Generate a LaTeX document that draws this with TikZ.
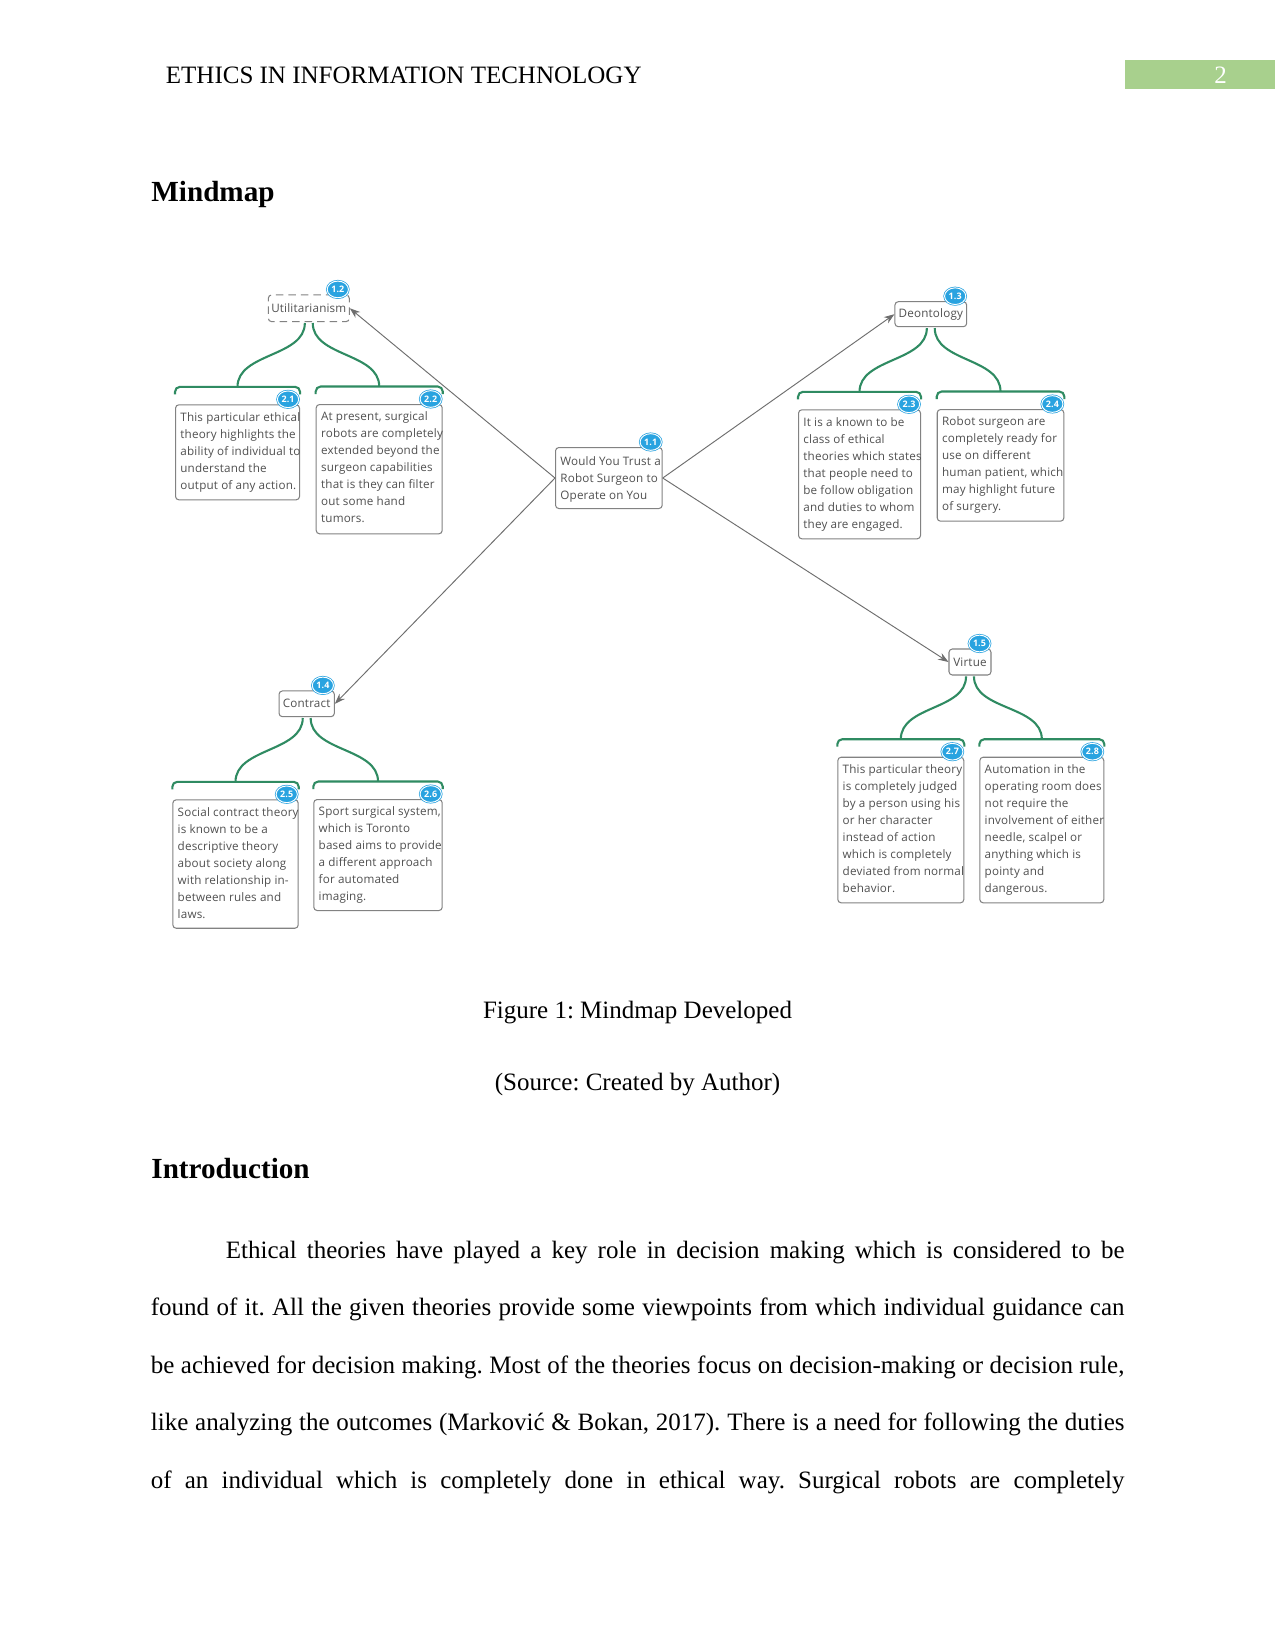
\documentclass[tikz,border=0pt]{standalone}
\usepackage{fontspec}
\setmainfont{Liberation Serif}
\newfontfamily\mmfont[LetterSpace=1.5]{Open Sans}
\usetikzlibrary{shapes.geometric,arrows.meta}
\definecolor{mmgreen}{RGB}{47,139,98}
\definecolor{badgec}{RGB}{41,163,224}
\definecolor{boxc}{RGB}{130,130,130}
\definecolor{mmtextc}{RGB}{80,80,80}
\definecolor{linkc}{RGB}{110,110,110}
\definecolor{headgreen}{RGB}{168,208,141}
\frenchspacing
\tikzset{
  mmtext/.style={font=\mmfont\fontsize{5.6bp}{8.16bp}\selectfont, text=mmtextc},
  leafbox/.style={draw=boxc, line width=0.5bp, rounded corners=1.6bp, fill=white, inner sep=0pt, anchor=north west},
  topbox/.style={draw=boxc, line width=0.5bp, rounded corners=1.6bp, fill=white, inner sep=0pt, mmtext},
  leaftext/.style={mmtext, align=left, inner sep=0pt, anchor=north west},
  badge/.style={ellipse, fill=badgec, draw=badgec, double=white, double distance=0.45bp, line width=0.35bp,
    minimum width=10.2bp, minimum height=8bp, inner sep=0pt, text=white,
    font=\mmfont\bfseries\fontsize{4.3bp}{5bp}\selectfont},
  branch/.style={draw=mmgreen, line width=1bp},
  link/.style={draw=linkc, line width=0.45bp, -{Stealth[length=5bp,width=3.6bp]}},
  bodytext/.style={inner sep=0pt, anchor=base west, font=\fontsize{12bp}{14bp}\selectfont},
}
% leaf: name, x1, y1, x2, y2, badge, text
\newcommand\mmleaf[7]{%
  \node[leafbox, minimum width={(#4-#2)*0.48bp}, minimum height={(#5-#3)*0.48bp}] (b#1) at (#2,#3) {};
  \node[leaftext] (t#1) at ([shift={(5,7.6)}]b#1.north west) {#7};
  \node[badge] (bd#1) at ([shift={(-12,-5)}]b#1.north east) {#6};
}
% bracket above a leaf box
\newcommand\mmbracket[1]{%
  \draw[branch, rounded corners=2.4bp] ([shift={(0,-10)}]b#1.north west) -- ([shift={(0,-17.5)}]b#1.north west)
    -- ([shift={(0,-17.5)}]b#1.north east) -- ([shift={(0,-10)}]b#1.north east);
  \coordinate (k#1) at ([shift={(0,-17.5)}]b#1.north);
}
\begin{document}
\begin{tikzpicture}[x=0.48bp,y=-0.48bp]
\fill[white] (0,0) rectangle (1275,1651);
\useasboundingbox (0,0) rectangle (1275,1651);

% header
\node[bodytext] (header) at (165.5,83.5) {ETHICS IN INFORMATION TECHNOLOGY};
\fill[headgreen] (1125,60) rectangle (1275,89);
\node[bodytext, anchor=base, text=white] (pagenum) at (1220.7,83.5) {2};

\node[bodytext, font=\bfseries\fontsize{14bp}{16bp}\selectfont] (h1) at (151,201.5) {Mindmap};

% ---- mind map ----
% central
\node[leafbox, minimum width={106.7*0.48bp}, minimum height={61*0.48bp}] (root) at (555,447) {};
\node[leaftext] (troot) at ([shift={(5,9.2)}]root.north west) {Would You Trust a\\Robot Surgeon to\\Operate on You};
\node[badge] (bdroot) at ([shift={(-12,-5)}]root.north east) {1.1};

% top-level topics
\node[topbox, dashed, dash pattern=on 3.6bp off 2.4bp, minimum width={81*0.48bp}, minimum height={26.7*0.48bp}] (util) at (308.8,308.3) {Utilitarianism};
\node[badge] (bdutil) at ([shift={(-12,-5)}]util.north east) {1.2};
\node[topbox, minimum width={71.7*0.48bp}, minimum height={25*0.48bp}] (deon) at (930.8,314.2) {Deontology};
\node[badge] (bddeon) at ([shift={(-12,-5)}]deon.north east) {1.3};
\node[topbox, minimum width={55.3*0.48bp}, minimum height={25.7*0.48bp}] (contract) at (306.7,703.8) {Contract};
\node[badge] (bdcontract) at ([shift={(-12,-5)}]contract.north east) {1.4};
\node[topbox, minimum width={42*0.48bp}, minimum height={26*0.48bp}] (virtue) at (970,662) {Virtue};
\node[badge] (bdvirtue) at ([shift={(-12,-5)}]virtue.north east) {1.5};

% leaves
\mmleaf{21}{175}{404.3}{299}{499.3}{2.1}{This particular ethical\\theory highlights the\\ability of individual to\\understand the\\output of any action.}
\mmleaf{22}{315.7}{404}{441.7}{533.3}{2.2}{At present, surgical\\robots are completely\\extended beyond the\\surgeon capabilities\\that is they can filter\\out some hand\\tumors.}
\mmleaf{23}{798}{409.3}{920}{538.3}{2.3}{It is a known to be\\class of ethical\\theories which states\\that people need to\\be follow obligation\\and duties to whom\\they are engaged.}
\mmleaf{24}{936.7}{409}{1063.3}{520.7}{2.4}{Robot surgeon are\\completely ready for\\use on different\\human patient, which\\may highlight future\\of surgery.}
\mmleaf{25}{172.3}{799.3}{297.7}{927.7}{2.5}{Social contract theory\\is known to be a\\descriptive theory\\about society along\\with relationship in-\\between rules and\\laws.}
\mmleaf{26}{313.3}{799}{441.7}{910}{2.6}{Sport surgical system,\\which is Toronto\\based aims to provide\\a different approach\\for automated\\imaging.}
\mmleaf{27}{837.3}{756.7}{963.3}{902.3}{2.7}{This particular theory\\is completely judged\\by a person using his\\or her character\\instead of action\\which is completely\\deviated from normal\\behavior.}
\mmleaf{28}{979.3}{756.7}{1103.3}{902.3}{2.8}{Automation in the\\operating room does\\not require the\\involvement of either\\needle, scalpel or\\anything which is\\pointy and\\dangerous.}

% brackets
\mmbracket{21}\mmbracket{22}\mmbracket{23}\mmbracket{24}
\mmbracket{25}\mmbracket{26}\mmbracket{27}\mmbracket{28}

% green branches
\draw[branch] ([xshift=-1.9bp,yshift=-0.4bp]util.south) .. controls +(0,34) and +(0,-34) .. (k21);
\draw[branch] ([xshift=1.9bp,yshift=-0.4bp]util.south) .. controls +(0,34) and +(0,-34) .. (k22);
\draw[branch] ([xshift=-1.9bp,yshift=-0.4bp]deon.south) .. controls +(0,34) and +(0,-34) .. (k23);
\draw[branch] ([xshift=1.9bp,yshift=-0.4bp]deon.south) .. controls +(0,34) and +(0,-34) .. (k24);
\draw[branch] ([xshift=-1.9bp,yshift=-0.4bp]contract.south) .. controls +(0,34) and +(0,-34) .. (k25);
\draw[branch] ([xshift=1.9bp,yshift=-0.4bp]contract.south) .. controls +(0,34) and +(0,-34) .. (k26);
\draw[branch] ([xshift=-1.9bp,yshift=-0.4bp]virtue.south) .. controls +(0,34) and +(0,-34) .. (k27);
\draw[branch] ([xshift=1.9bp,yshift=-0.4bp]virtue.south) .. controls +(0,34) and +(0,-34) .. (k28);

% links from central node
\draw[link] (root.west) -- (util.east);
\draw[link] (root.west) -- (contract.east);
\draw[link] (root.east) -- (deon.west);
\draw[link] (root.east) -- (virtue.west);

% captions
\node[bodytext, anchor=base] (cap1) at (637.5,1018.3) {Figure 1: Mindmap Developed};
\node[bodytext, anchor=base] (cap2) at (637.5,1090.8) {(Source: Created by Author)};

\node[bodytext, font=\bfseries\fontsize{14bp}{16bp}\selectfont] (h2) at (151,1178.3) {Introduction};

% body
\node[bodytext] (l1) at (225.5,1258) {\makebox[431.3bp][s]{Ethical theories have played a key role in decision making which is considered to be}};
\node[bodytext] (l2) at (150.5,1315.6) {\makebox[467.3bp][s]{found of it. All the given theories provide some viewpoints from which individual guidance can}};
\node[bodytext] (l3) at (150.5,1373) {\makebox[467.3bp][s]{be achieved for decision making. Most of the theories focus on decision-making or decision rule,}};
\node[bodytext] (l4) at (150.5,1430.5) {\makebox[467.3bp][s]{like analyzing the outcomes (Marković \& Bokan, 2017). There is a need for following the duties}};
\node[bodytext] (l5) at (150.5,1488.2) {\makebox[467.3bp][s]{of an individual which is completely done in ethical way. Surgical robots are completely}};
\end{tikzpicture}
\end{document}
